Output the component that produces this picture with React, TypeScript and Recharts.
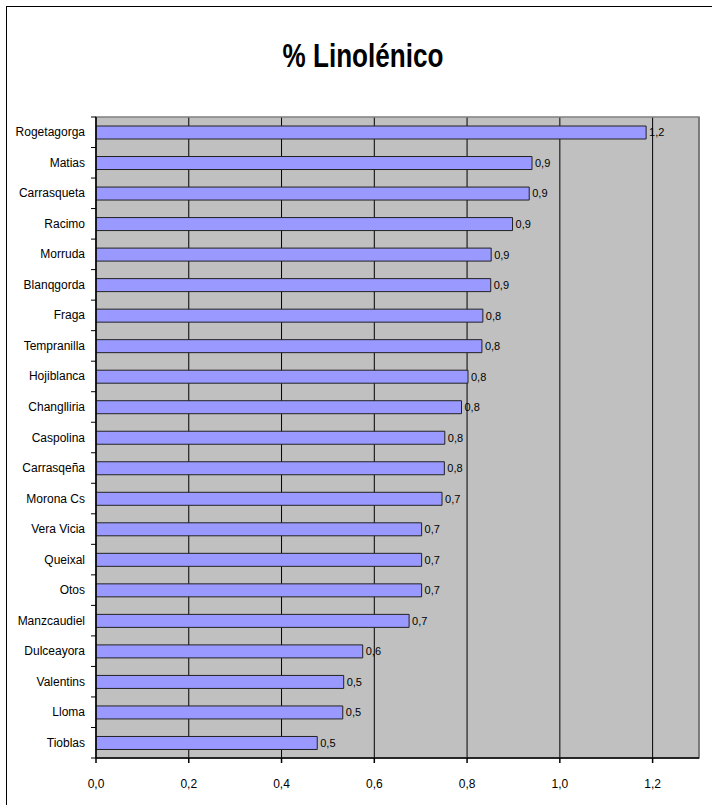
import React from 'react';
import { BarChart, Bar, XAxis, YAxis, CartesianGrid, LabelList, ReferenceArea } from 'recharts';

const categories = [
  'Rogetagorga', 'Matias', 'Carrasqueta', 'Racimo', 'Morruda', 'Blanqgorda', 'Fraga',
  'Tempranilla', 'Hojiblanca', 'Changlliria', 'Caspolina', 'Carrasqeña', 'Morona Cs',
  'Vera Vicia', 'Queixal', 'Otos', 'Manzcaudiel', 'Dulceayora', 'Valentins', 'Lloma', 'Tioblas',
];
const values = [
  1.186, 0.94, 0.934, 0.898, 0.852, 0.851, 0.834,
  0.832, 0.802, 0.788, 0.752, 0.751, 0.746,
  0.702, 0.702, 0.702, 0.675, 0.575, 0.534, 0.532, 0.477,
];
const xTicks = [0, 0.2, 0.4, 0.6, 0.8, 1.0, 1.2];
const title = '% Linolénico';

const data = categories.map((name, i) => ({ name, value: values[i] }));

const fmt = (v: number, d: number) => Number(v).toFixed(d).replace('.', ',');

const FONT = "'Liberation Sans', Arial, sans-serif";
const TICK_SIZE = 5;
const TICK_MARGIN = 6;

const YTick = (props: any) => {
  const { x, y, payload, index, visibleTicksCount } = props;
  const off = payload && payload.offset ? payload.offset : 15.26;
  const lx1 = x + TICK_MARGIN;
  const lx2 = lx1 + TICK_SIZE;
  const isLast = index === (visibleTicksCount || categories.length) - 1;
  return (
    <g>
      <line x1={lx1} x2={lx2} y1={y - off} y2={y - off} stroke="#000" strokeWidth={1} />
      {isLast && <line x1={lx1} x2={lx2} y1={y + off} y2={y + off} stroke="#000" strokeWidth={1} />}
      <text x={x} y={y} dy={4} textAnchor="end" fontSize={12} fontFamily={FONT} fill="#000">
        {payload.value}
      </text>
    </g>
  );
};

export default function App() {
  return (
    <div style={{ position: 'absolute', left: 0, top: 0, width: 712, height: 805, background: '#fff', overflow: 'hidden' }}>
      <div
        style={{
          position: 'absolute', left: 6, top: 6, width: 720, height: 820,
          borderLeft: '1.5px solid #000', borderTop: '1.5px solid #000', boxSizing: 'border-box',
        }}
      />
      <div
        style={{
          position: 'absolute', left: 163, top: 36, width: 400, textAlign: 'center',
          fontFamily: FONT, fontWeight: 'bold', fontSize: 33, lineHeight: '40px', color: '#000',
          transform: 'scaleX(0.79)', transformOrigin: '50% 50%',
        }}
      >
        {title}
      </div>
      <div style={{ position: 'absolute', left: 0, top: 0 }}>
        <BarChart
          width={712}
          height={805}
          data={data}
          layout="vertical"
          margin={{ top: 117, right: 13, bottom: 17, left: 0 }}
          barCategoryGap={0}
        >
          <CartesianGrid horizontal={false} vertical={true} stroke="#000" strokeWidth={1} fill="#C0C0C0" fillOpacity={1} />
          <ReferenceArea x1={0} x2={1.3} fill="none" stroke="#808080" strokeWidth={1.5} ifOverflow="visible" />
          <XAxis
            type="number"
            domain={[0, 1.3]}
            ticks={xTicks}
            allowDataOverflow
            height={30}
            tickSize={5}
            tickMargin={16}
            tickFormatter={(v: number) => fmt(v, 1)}
            stroke="#000"
            strokeWidth={1.5}
            tick={{ fontSize: 12, fontFamily: FONT, fill: '#000' }}
          />
          <YAxis
            type="category"
            dataKey="name"
            width={96}
            tickSize={TICK_SIZE}
            tickMargin={TICK_MARGIN}
            tickLine={false}
            stroke="#000"
            strokeWidth={1.5}
            interval={0}
            tick={<YTick />}
          />
          <Bar dataKey="value" fill="#9999FF" stroke="#222" strokeWidth={1} barSize={13} isAnimationActive={false}>
            <LabelList
              dataKey="value"
              position="right"
              offset={3}
              formatter={(v: any) => fmt(v, 1)}
              style={{ fontSize: 11, fontFamily: FONT, fill: '#000' }}
            />
          </Bar>
        </BarChart>
      </div>
    </div>
  );
}
